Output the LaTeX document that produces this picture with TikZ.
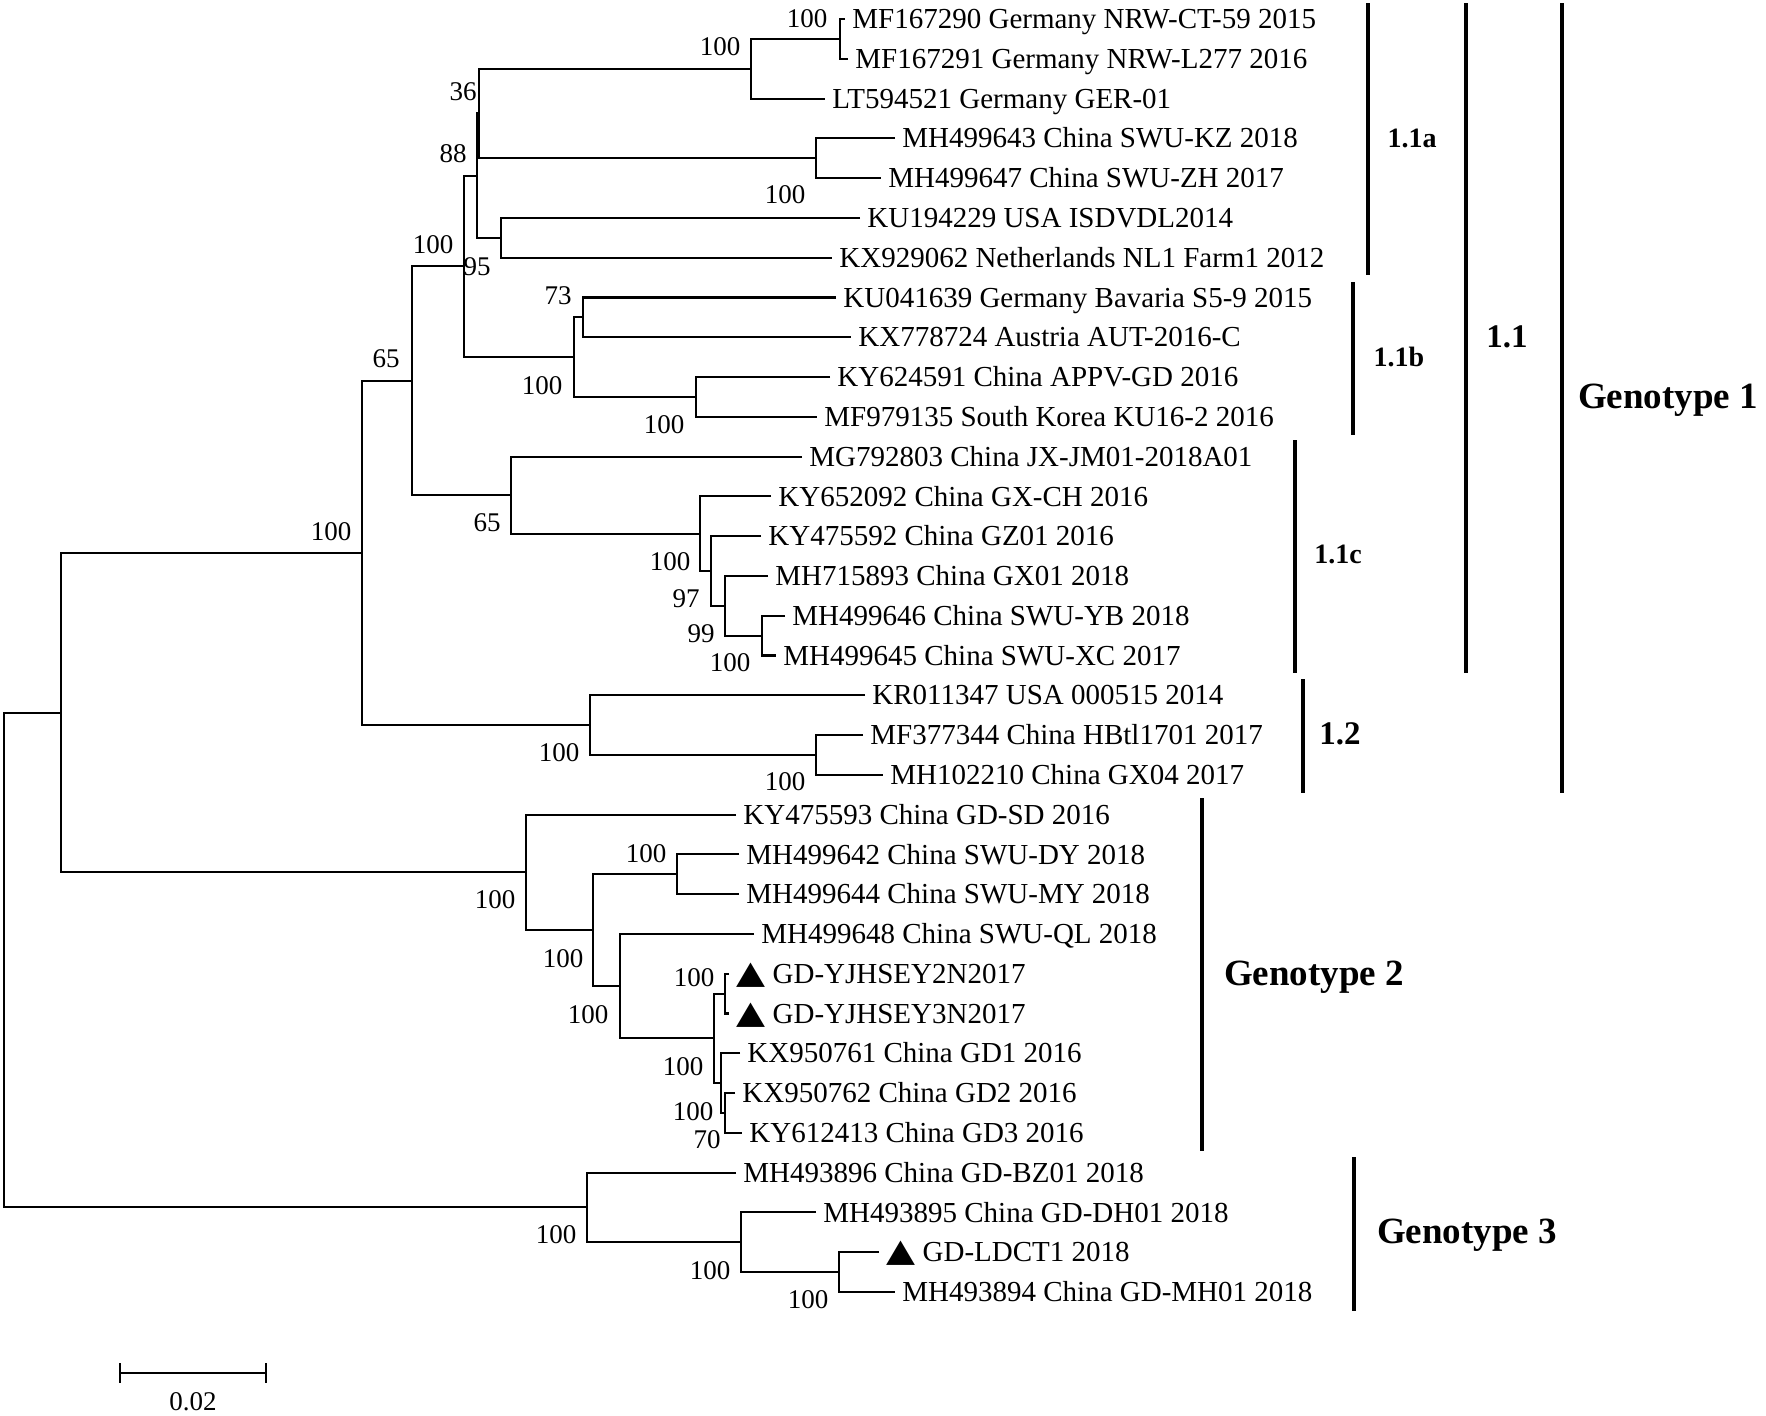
\documentclass[tikz,border=0pt]{standalone}
\usepackage{fontspec}
\usepackage{graphicx}
\setmainfont{Liberation Serif}
\newfontfamily\symfont{DejaVu Sans}
\newcommand{\trimark}{{\symfont\scalebox{1.3}[1.1]{▲}}}

\tikzset{
  branch/.style={line width=1.05pt},
  clade/.style={line width=1.8pt},
  tip/.style={anchor=west, inner xsep=3.5pt, inner ysep=0pt,
    font=\fontsize{14.5}{16}\selectfont, text height=9.6pt, text depth=0pt},
  boot/.style={inner sep=0pt, font=\fontsize{13.5}{15}\selectfont},
  grp/.style={inner sep=0pt, text depth=0pt, font=\bfseries\fontsize{14}{16}\selectfont},
  grpbig/.style={grp, font=\bfseries\fontsize{16.5}{18}\selectfont},
  geno/.style={grp, font=\bfseries\fontsize{18.5}{20}\selectfont}
}

\begin{document}
\begin{tikzpicture}[x=0.5pt, y=-0.5pt]
  \def\Top{3};
  \def\Yone{793};
  \useasboundingbox (0,0) rectangle (1766,1415);

  % tips
  \node[tip] (t1) at (845,19.0) {MF167290 Germany NRW-CT-59 2015};
  \node[tip] (t2) at (848,58.8) {MF167291 Germany NRW-L277 2016};
  \node[tip] (t3) at (825,98.6) {LT594521 Germany GER-01};
  \node[tip] (t4) at (895,138.3) {MH499643 China SWU-KZ 2018};
  \node[tip] (t5) at (881,178.1) {MH499647 China SWU-ZH 2017};
  \node[tip] (t6) at (860,217.9) {KU194229 USA ISDVDL2014};
  \node[tip] (t7) at (832,257.7) {KX929062 Netherlands NL1 Farm1 2012};
  \node[tip] (t8) at (836,297.5) {KU041639 Germany Bavaria S5-9 2015};
  \node[tip] (t9) at (851,337.2) {KX778724 Austria AUT-2016-C};
  \node[tip] (t10) at (830,377.0) {KY624591 China APPV-GD 2016};
  \node[tip] (t11) at (817,416.8) {MF979135 South Korea KU16-2 2016};
  \node[tip] (t12) at (802,456.6) {MG792803 China JX-JM01-2018A01};
  \node[tip] (t13) at (771,496.4) {KY652092 China GX-CH 2016};
  \node[tip] (t14) at (761,536.1) {KY475592 China GZ01 2016};
  \node[tip] (t15) at (768,575.9) {MH715893 China GX01 2018};
  \node[tip] (t16) at (785,615.7) {MH499646 China SWU-YB 2018};
  \node[tip] (t17) at (776,655.5) {MH499645 China SWU-XC 2017};
  \node[tip] (t18) at (865,695.3) {KR011347 USA 000515 2014};
  \node[tip] (t19) at (863,735.0) {MF377344 China HBtl1701 2017};
  \node[tip] (t20) at (883,774.8) {MH102210 China GX04 2017};
  \node[tip] (t21) at (736,814.6) {KY475593 China GD-SD 2016};
  \node[tip] (t22) at (739,854.4) {MH499642 China SWU-DY 2018};
  \node[tip] (t23) at (739,894.2) {MH499644 China SWU-MY 2018};
  \node[tip] (t24) at (754,933.9) {MH499648 China SWU-QL 2018};
  \node[tip] (t25) at (729,973.7) {\trimark{} GD-YJHSEY2N2017};
  \node[tip] (t26) at (729,1013.5) {\trimark{} GD-YJHSEY3N2017};
  \node[tip] (t27) at (740,1053.3) {KX950761 China GD1 2016};
  \node[tip] (t28) at (735,1093.1) {KX950762 China GD2 2016};
  \node[tip] (t29) at (742,1132.8) {KY612413 China GD3 2016};
  \node[tip] (t30) at (736,1172.6) {MH493896 China GD-BZ01 2018};
  \node[tip] (t31) at (816,1212.4) {MH493895 China GD-DH01 2018};
  \node[tip] (t32) at (879,1252.2) {\trimark{} GD-LDCT1 2018};
  \node[tip] (t33) at (895,1292.0) {MH493894 China GD-MH01 2018};

  % inner nodes
  \coordinate (nA) at (840,38.9);
  \coordinate (nB) at (751,68.8);
  \coordinate (nD) at (816,158.2);
  \coordinate (nX) at (479,113.5);
  \coordinate (nE) at (501,237.8);
  \coordinate (nY) at (477,175.6);
  \coordinate (nI) at (583,317.4);
  \coordinate (nJ) at (696,396.9);
  \coordinate (nH) at (574,357.1);
  \coordinate (nF) at (464,266.4);
  \coordinate (nQ) at (762,635.6);
  \coordinate (nP) at (725,605.8);
  \coordinate (nO) at (711,571.0);
  \coordinate (nN) at (700,533.7);
  \coordinate (nK) at (511,495.2);
  \coordinate (nG) at (412,380.8);
  \coordinate (nS) at (816,754.9);
  \coordinate (nR) at (590,725.1);
  \coordinate (nL) at (362,553.0);
  \coordinate (nW) at (677,874.3);
  \coordinate (nAB) at (725,993.6);
  \coordinate (nAD) at (725,1113.0);
  \coordinate (nAC) at (721,1083.1);
  \coordinate (nAA) at (714,1038.4);
  \coordinate (nZ) at (620,986.2);
  \coordinate (nV) at (593,930.2);
  \coordinate (nU) at (526,872.4);
  \coordinate (nM) at (61,712.7);
  \coordinate (nAG) at (839,1272.1);
  \coordinate (nAF) at (741,1242.3);
  \coordinate (nAE) at (587,1207.4);
  \coordinate (root) at (4,960.1);

  % branches
  \draw[branch] (t1.west) -| (nA) |- (t2.west);
  \draw[branch] (nA) -| (nB) |- (t3.west);
  \draw[branch] (t4.west) -| (nD) |- (t5.west);
  \draw[branch] (nB) -| (nX) |- (nD);
  \draw[branch] (t6.west) -| (nE) |- (t7.west);
  \draw[branch] (nX) -| (nY) |- (nE);
  \draw[branch] (t8.west) -| (nI) |- (t9.west);
  \draw[branch] (t10.west) -| (nJ) |- (t11.west);
  \draw[branch] (nI) -| (nH) |- (nJ);
  \draw[branch] (nY) -| (nF) |- (nH);
  \draw[branch] (t16.west) -| (nQ) |- (t17.west);
  \draw[branch] (t15.west) -| (nP) |- (nQ);
  \draw[branch] (t14.west) -| (nO) |- (nP);
  \draw[branch] (t13.west) -| (nN) |- (nO);
  \draw[branch] (t12.west) -| (nK) |- (nN);
  \draw[branch] (nF) -| (nG) |- (nK);
  \draw[branch] (t19.west) -| (nS) |- (t20.west);
  \draw[branch] (t18.west) -| (nR) |- (nS);
  \draw[branch] (nG) -| (nL) |- (nR);
  \draw[branch] (t22.west) -| (nW) |- (t23.west);
  \draw[branch] (t25.west) -| (nAB) |- (t26.west);
  \draw[branch] (t28.west) -| (nAD) |- (t29.west);
  \draw[branch] (t27.west) -| (nAC) |- (nAD);
  \draw[branch] (nAB) -| (nAA) |- (nAC);
  \draw[branch] (t24.west) -| (nZ) |- (nAA);
  \draw[branch] (nW) -| (nV) |- (nZ);
  \draw[branch] (t21.west) -| (nU) |- (nV);
  \draw[branch] (nL) -| (nM) |- (nU);
  \draw[branch] (t32.west) -| (nAG) |- (t33.west);
  \draw[branch] (t31.west) -| (nAF) |- (nAG);
  \draw[branch] (t30.west) -| (nAE) |- (nAF);
  \draw[branch] (nM) -| (root) |- (nAE);

  % bootstrap values
  \node[boot] (bs1) at (807,19) {100};
  \node[boot] (bs2) at (720,47) {100};
  \node[boot] (bs3) at (463,92) {36};
  \node[boot] (bs4) at (453,154) {88};
  \node[boot] (bs5) at (785,195) {100};
  \node[boot] (bs6) at (433,245) {100};
  \node[boot] (bs7) at (477,267) {95};
  \node[boot] (bs8) at (558,296) {73};
  \node[boot] (bs9) at (386,359) {65};
  \node[boot] (bs10) at (542,386) {100};
  \node[boot] (bs11) at (664,425) {100};
  \node[boot] (bs12) at (331,532) {100};
  \node[boot] (bs13) at (487,523) {65};
  \node[boot] (bs14) at (670,562) {100};
  \node[boot] (bs15) at (686,599) {97};
  \node[boot] (bs16) at (701,634) {99};
  \node[boot] (bs17) at (730,663) {100};
  \node[boot] (bs18) at (559,753) {100};
  \node[boot] (bs19) at (785,782) {100};
  \node[boot] (bs20) at (646,854) {100};
  \node[boot] (bs21) at (495,900) {100};
  \node[boot] (bs22) at (563,959) {100};
  \node[boot] (bs23) at (694,978) {100};
  \node[boot] (bs24) at (588,1015) {100};
  \node[boot] (bs25) at (683,1067) {100};
  \node[boot] (bs26) at (693,1112) {100};
  \node[boot] (bs27) at (707,1140) {70};
  \node[boot] (bs28) at (556,1235) {100};
  \node[boot] (bs29) at (710,1271) {100};
  \node[boot] (bs30) at (808,1300) {100};

  % clade bars
  \draw[clade] (1368,\Top) -- (1368,275);
  \draw[clade] (1353,282) -- (1353,435);
  \draw[clade] (1295,440) -- (1295,673);
  \draw[clade] (1303,679) -- (1303,\Yone);
  \draw[clade] (1466,\Top) -- (1466,673);
  \draw[clade] (1562,\Top) -- (1562,\Yone);
  \draw[clade] (1202,798) -- (1202,1151);
  \draw[clade] (1354,1157) -- (1354,1311);

  % labels
  \node[grp] (g1a) at (1412,138) {1.1a};
  \node[grp] (g1b) at (1399,357) {1.1b};
  \node[grp] (g1c) at (1338,554) {1.1c};
  \node[grpbig] (g11) at (1507,337) {1.1};
  \node[grpbig] (g12) at (1340,734) {1.2};
  \node[geno] (gt1) at (1668,396) {Genotype 1};
  \node[geno] (gt2) at (1314,973) {Genotype 2};
  \node[geno] (gt3) at (1467,1231) {Genotype 3};

  % scale bar
  \coordinate (sb1) at (120,1373);
  \coordinate (sb2) at (266,1373);
  \draw[branch] (sb1) -- (sb2);
  \draw[branch] ([yshift=5pt]sb1) -- ([yshift=-5pt]sb1);
  \draw[branch] ([yshift=5pt]sb2) -- ([yshift=-5pt]sb2);
  \node[boot] (sbl) at (193,1402) {0.02};
\end{tikzpicture}
\end{document}
